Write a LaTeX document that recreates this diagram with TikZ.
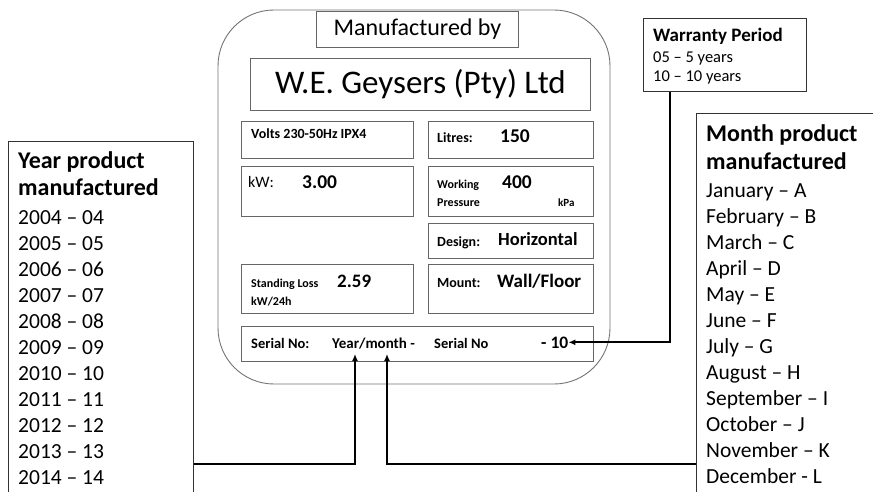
\documentclass[tikz,border=0pt]{standalone}
\usepackage{fontspec}
\setmainfont{Carlito}
\usetikzlibrary{arrows.meta,positioning}
\newcommand{\fsz}[1]{\fontsize{#1}{#1}\selectfont}

\begin{document}
\begin{tikzpicture}[x=1pt,y=-1pt,>=Latex]
  \tikzstyle{plate}=[draw=black!55,line width=0.9pt,rounded corners=56pt]
  \tikzstyle{cell}=[draw=black!60,line width=0.9pt,inner sep=0pt,anchor=north west]
  \tikzstyle{legend}=[draw=black!80,line width=0.9pt,fill=white,inner sep=0pt,anchor=north west]
  \tikzstyle{lbl}=[inner sep=0pt,anchor=base west]
  \tikzstyle{arr}=[line width=1.8pt,-{Latex[length=7pt,width=6pt]}]

  \useasboundingbox (0,0) rectangle (873,492);
  \clip (0,0) rectangle (873,492);

  % the rating plate
  \draw[plate] (218,10) rectangle (610,384);
  \node[cell,fill=white,minimum width=202,minimum height=36] (mbox) at (316,11) {};
  \node[font=\fsz{24}] (mtxt) at (mbox.center) {Manufactured by};
  \node[cell,minimum width=340,minimum height=52] (gbox) at (250,58) {};
  \node[font=\fsz{33}] (gtxt) at (gbox.center) {W.E. Geysers (Pty) Ltd};

  \node[cell,minimum width=172,minimum height=37] (volts) at (241,121) {};
  \node[cell,minimum width=165,minimum height=37] (litres) at (428,121) {};
  \node[cell,minimum width=172,minimum height=50] (kw) at (241,166) {};
  \node[cell,minimum width=165,minimum height=50] (press) at (428,166) {};
  \node[cell,minimum width=165,minimum height=35] (design) at (428,223) {};
  \node[cell,minimum width=172,minimum height=49] (loss) at (241,264) {};
  \node[cell,minimum width=165,minimum height=49] (mount) at (428,264) {};
  \node[cell,minimum width=352,minimum height=35] (serial) at (241,326) {};

  \node[lbl,font=\bfseries\fsz{14}] (voltst) at (251,139) {Volts 230-50Hz IPX4};
  \node[lbl,font=\bfseries\fsz{14}] (litrest) at (437,143) {Litres:};
  \node[lbl,font=\bfseries\fsz{19.5}] (litresv) at (500,143) {150};
  \node[lbl,font=\fsz{16}] (kwt) at (248,187) {kW:};
  \node[lbl,font=\bfseries\fsz{19.5}] (kwv) at (302,189) {3.00};
  \node[lbl,font=\bfseries\fsz{12}] (presst) at (437,189) {Working};
  \node[lbl,font=\bfseries\fsz{12}] (presst2) at (437,207) {Pressure};
  \node[lbl,font=\bfseries\fsz{19.5}] (pressv) at (502,189) {400};
  \node[lbl,font=\bfseries\fsz{11}] (pressu) at (558,207) {kPa};
  \node[lbl,font=\bfseries\fsz{14}] (designt) at (437,246) {Design:};
  \node[lbl,font=\bfseries\fsz{18.5}] (designv) at (498,245) {Horizontal};
  \node[lbl,font=\bfseries\fsz{12}] (losst) at (251,287) {Standing Loss};
  \node[lbl,font=\bfseries\fsz{19}] (lossv) at (337,287) {2.59};
  \node[lbl,font=\bfseries\fsz{12}] (lossu) at (251,305) {kW/24h};
  \node[lbl,font=\bfseries\fsz{14}] (mountt) at (437,287) {Mount:};
  \node[lbl,font=\bfseries\fsz{19}] (mountv) at (497,287) {Wall/Floor};

  \node[lbl,font=\bfseries\fsz{14.5}] (sno) at (251,348) {Serial No:};
  \node[lbl,font=\bfseries\fsz{15}] (ym) at (332,348) {Year/month -};
  \node[lbl,font=\bfseries\fsz{14.5}] (sno2) at (434,348) {Serial No};
  \node[lbl,font=\bfseries\fsz{17.5}] (ten) at (541,348) {- 10};

  % warranty legend
  \node[legend,minimum width=163,minimum height=73] (wp) at (643,18) {};
  \node[lbl,font=\bfseries\fsz{19}] (wpt) at (653,42) {Warranty Period};
  \node[lbl,font=\fsz{16.5}] (wp1) at (653,63) {05 – 5 years};
  \node[lbl,font=\fsz{16.5}] (wp2) at (653,82) {10 – 10 years};

  % year legend
  \node[legend,minimum width=185,minimum height=400] (yr) at (8,141) {};
  \node[lbl,font=\bfseries\fsz{24}] (yrt) at (18,168) {Year product};
  \node[lbl,font=\bfseries\fsz{24}] (yrt2) at (18,195) {manufactured};
  \foreach \yy [count=\i from 0] in {04,05,06,07,08,09,10,11,12,13,14}
    \node[lbl,font=\fsz{21.5}] (yr\yy) at (18,224+26*\i) {20\yy\ – \yy};

  % month legend
  \node[legend,minimum width=200,minimum height=400] (mo) at (696,113) {};
  \node[lbl,font=\bfseries\fsz{24}] (mot) at (706,142) {Month product};
  \node[lbl,font=\bfseries\fsz{24}] (mot2) at (706,169) {manufactured};
  \foreach \mm [count=\i from 0] in {January – A,February – B,March – C,April – D,May – E,June – F,July – G,August – H,September – I,October – J,November – K,December - L}
    \node[lbl,font=\fsz{21.5}] (mo\i) at (706,197+26*\i) {\mm};

  % pointers
  \coordinate (ylow) at (0,464);
  \coordinate (yrtip) at (355,354);
  \coordinate (mntip) at (387,354);
  \draw[arr] (yr.east |- ylow) -| (yrtip);
  \draw[arr] (mo.west |- ylow) -| (mntip);
  \draw[arr] (wp.south west) ++(27,0) |- (ten.east);
\end{tikzpicture}
\end{document}
